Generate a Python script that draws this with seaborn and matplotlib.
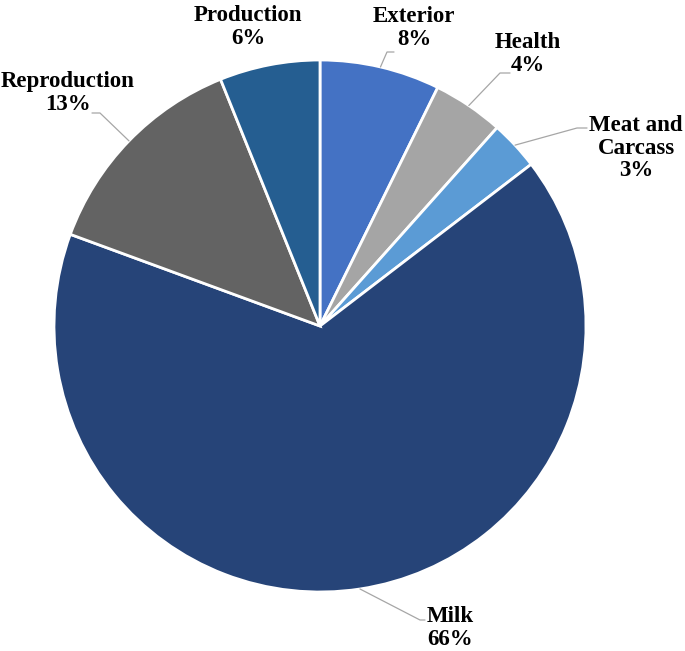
import numpy as np
import seaborn as sns
import matplotlib.pyplot as plt

# data (slice shares, clockwise from 12 o'clock)
categories = ['Exterior', 'Health', 'Meat and\nCarcass', 'Milk', 'Reproduction', 'Production']
shares = [7.3, 4.3, 3.0, 66.0, 13.3, 6.1]
shown_pct = ['8%', '4%', '3%', '66%', '13%', '6%']
colors = ['#4472C4', '#A5A5A5', '#5B9BD5', '#264478', '#636363', '#255E91']

sns.set_theme(style='white')
plt.rcParams['font.family'] = ['Liberation Serif', 'DejaVu Serif']

W, H = 685, 651
cx, cy, r = 320, 326, 266

fig = plt.figure(figsize=(W / 100, H / 100), dpi=100)
ax = fig.add_axes([(cx - r) / W, (H - cy - r) / H, 2 * r / W, 2 * r / H])

wedges, _ = ax.pie(shares, colors=colors, startangle=90, counterclock=False,
                   radius=1, wedgeprops=dict(edgecolor='white', linewidth=2))
ax.set_xlim(-1, 1)
ax.set_ylim(-1, 1)
ax.set_aspect('equal')
ax.axis('off')


def px(x, y):
    # picture pixel -> data units of the pie axes
    return (x - cx) / r, (cy - y) / r


# label placement (text centre, leader bend, leader end) in picture pixels
label_pos = [(414, 28), (528, 54), (636, 148), (450, 628), (68, 93), (248, 27)]
leader = [((387, 52), (394, 52)), ((500, 73), (510, 73)), ((577, 128), (587, 128)),
          ((420, 620), (425, 620)), ((100, 113), (92, 113)), None]

for w, name, pct, pos, ld in zip(wedges, categories, shown_pct, label_pos, leader):
    tx, ty = px(*pos)
    ax.text(tx, ty, f'{name}\n{pct}', ha='center', va='center', fontsize=16.5,
            fontweight='bold', color='black', linespacing=1.1)
    if ld is None:
        continue
    mid = np.deg2rad((w.theta1 + w.theta2) / 2)
    sx, sy = np.cos(mid), np.sin(mid)
    bx, by = px(*ld[0])
    ex, ey = px(*ld[1])
    ax.plot([sx, bx, ex], [sy, by, ey], color='#A6A6A6', lw=0.9, clip_on=False)

fig.savefig('out.png', dpi=100, facecolor='white')
